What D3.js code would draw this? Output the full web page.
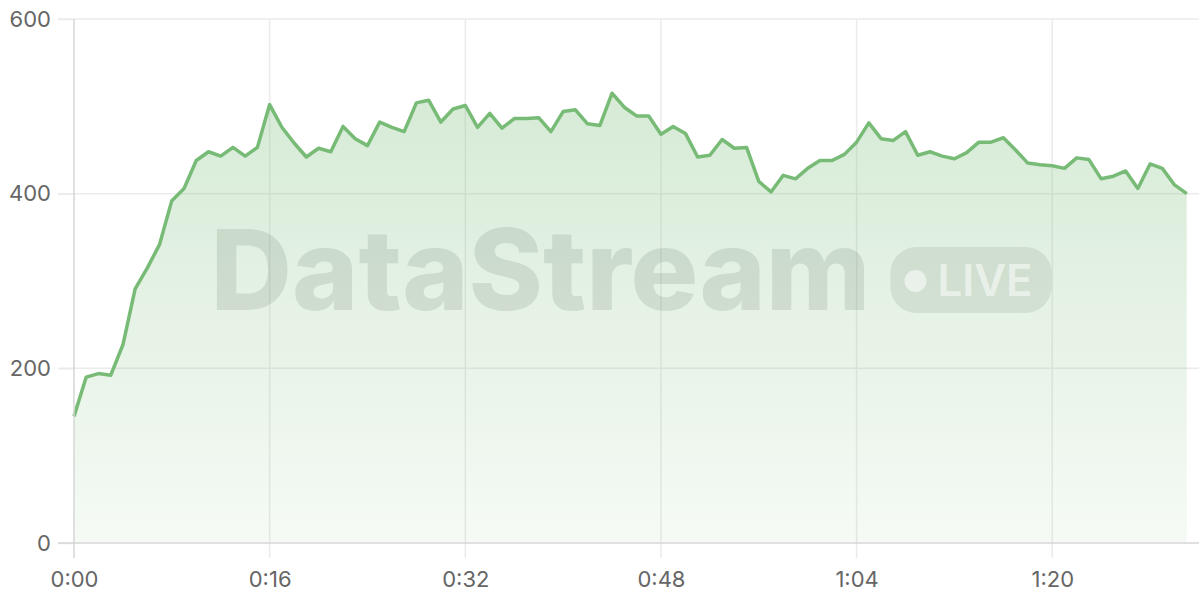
<!DOCTYPE html>
<html>
<head>
<meta charset="utf-8">
<script src="https://cdn.jsdelivr.net/npm/d3@7"></script>
<style>
  html, body { margin: 0; padding: 0; background: #fff; }
  svg { display: block; font-family: Inter, "Helvetica Neue", Arial, sans-serif; }
</style>
</head>
<body>
<div id="chart"></div>
<script>
// Values per second
const values = [
    145, 190, 194, 192, 227, 291, 315, 342, 392, 406,
    438, 448, 443, 453, 443, 453, 502, 476, 458, 442,
    452, 448, 477, 463, 455, 482, 476, 471, 504, 507,
    482, 497, 501, 476, 492, 475, 486, 486, 487, 471,
    494, 496, 480, 478, 515, 499, 489, 489, 468, 477,
    469, 442, 444, 462, 452, 453, 414, 402, 421, 417,
    429, 438, 438, 445, 459, 481, 463, 461, 471, 444,
    448, 443, 440, 447, 459, 459, 464, 450, 435, 433,
    432, 429, 441, 439, 417, 420, 426, 406, 434, 429,
    410, 400
];
const xTicks = [0, 16, 32, 48, 64, 80];
const yTicks = [0, 200, 400, 600];
const xMax = 92;
const yMax = 600;

const svgWidth = 1200, svgHeight = 600;
const margin = { top: 19, right: 1, bottom: 57, left: 74 };
const chartWidth = svgWidth - margin.left - margin.right;
const chartHeight = svgHeight - margin.top - margin.bottom;

const lineColor = '#77bb77';

let svg = d3.select('#chart')
    .append('svg')
    .attr('width', svgWidth)
    .attr('height', svgHeight);

// Gradient for the area fill
const defs = svg.append('defs');
const grad = defs.append('linearGradient')
    .attr('id', 'areaFill')
    .attr('gradientUnits', 'userSpaceOnUse')
    .attr('x1', 0).attr('x2', 0)
    .attr('y1', 0).attr('y2', chartHeight);
grad.append('stop').attr('offset', '0%').attr('stop-color', lineColor).attr('stop-opacity', 0.34);
grad.append('stop').attr('offset', '100%').attr('stop-color', lineColor).attr('stop-opacity', 0.07);

let chart = svg.append('g')
    .attr('transform', `translate(${margin.left}, ${margin.top})`);

// Scales
let xScale = d3.scaleLinear().domain([0, xMax]).range([0, chartWidth]);
let yScale = d3.scaleLinear().domain([0, yMax]).range([chartHeight, 0]);

const fmtTime = s => `${Math.floor(s / 60)}:${String(s % 60).padStart(2, '0')}`;

// Grid lines
chart.append('g')
    .selectAll('line')
    .data(yTicks.filter(d => d !== 0))
    .enter()
    .append('line')
    .attr('x1', -16).attr('x2', chartWidth)
    .attr('y1', d => yScale(d)).attr('y2', d => yScale(d))
    .attr('stroke', '#ebebeb')
    .attr('stroke-width', 1.5);

chart.append('g')
    .selectAll('line')
    .data(xTicks.filter(d => d !== 0))
    .enter()
    .append('line')
    .attr('x1', d => xScale(d)).attr('x2', d => xScale(d))
    .attr('y1', 0).attr('y2', chartHeight + 15)
    .attr('stroke', '#ebebeb')
    .attr('stroke-width', 1.5);

// Area + line
const area = d3.area()
    .x((d, i) => xScale(i))
    .y0(yScale(0))
    .y1(d => yScale(d));

const line = d3.line()
    .x((d, i) => xScale(i))
    .y(d => yScale(d));

chart.append('path')
    .datum(values)
    .attr('d', area)
    .attr('fill', 'url(#areaFill)');

// Watermark
const wm = chart.append('g')
    .attr('transform', `translate(${chartWidth / 2 + 34}, ${chartHeight / 2 + 1})`);

wm.append('text')
    .attr('x', -460)
    .attr('y', 28)
    .attr('font-size', 112)
    .attr('font-weight', 800)
    .attr('textLength', 660)
    .attr('lengthAdjust', 'spacingAndGlyphs')
    .attr('fill', '#3c503c')
    .attr('fill-opacity', 0.13)
    .text('DataStream');

wm.append('rect')
    .attr('x', 220).attr('y', -35)
    .attr('width', 161).attr('height', 66)
    .attr('rx', 26)
    .attr('fill', '#3c503c')
    .attr('fill-opacity', 0.11);

wm.append('circle')
    .attr('cx', 245).attr('cy', -1)
    .attr('r', 11)
    .attr('fill', '#ffffff')
    .attr('fill-opacity', 0.55);

wm.append('text')
    .attr('x', 267)
    .attr('y', 14)
    .attr('font-size', 44)
    .attr('font-weight', 600)
    .attr('textLength', 95)
    .attr('lengthAdjust', 'spacingAndGlyphs')
    .attr('fill', '#ffffff')
    .attr('fill-opacity', 0.55)
    .text('LIVE');

chart.append('path')
    .datum(values)
    .attr('d', line)
    .attr('fill', 'none')
    .attr('stroke', lineColor)
    .attr('stroke-width', 3.5)
    .attr('stroke-linejoin', 'round');

// Axes
let yAxis = d3.axisLeft(yScale)
    .tickValues(yTicks)
    .tickSize(16)
    .tickPadding(7);

let yG = chart.append('g').call(yAxis);
yG.select('.domain').remove();
yG.selectAll('.tick line').attr('stroke', '#ebebeb').attr('stroke-width', 1.5);
yG.selectAll('.tick text')
    .attr('fill', '#666')
    .style('font-size', '22px')
    .style('font-family', 'Inter, "Helvetica Neue", Arial, sans-serif');

let xAxis = d3.axisBottom(xScale)
    .tickValues(xTicks)
    .tickFormat(fmtTime)
    .tickSize(0)
    .tickPadding(28);

let xG = chart.append('g')
    .attr('transform', `translate(0, ${chartHeight})`)
    .call(xAxis);
xG.select('.domain').remove();
xG.selectAll('.tick text')
    .attr('fill', '#666')
    .style('font-size', '22px')
    .style('font-family', 'Inter, "Helvetica Neue", Arial, sans-serif');

// Axis lines
chart.append('line')
    .attr('x1', 0).attr('x2', 0)
    .attr('y1', 0).attr('y2', chartHeight + 15)
    .attr('stroke', '#d6d6d6')
    .attr('stroke-width', 1.5);

chart.append('line')
    .attr('x1', -16).attr('x2', chartWidth)
    .attr('y1', chartHeight).attr('y2', chartHeight)
    .attr('stroke', '#d6d6d6')
    .attr('stroke-width', 1.5);
</script>
</body>
</html>
